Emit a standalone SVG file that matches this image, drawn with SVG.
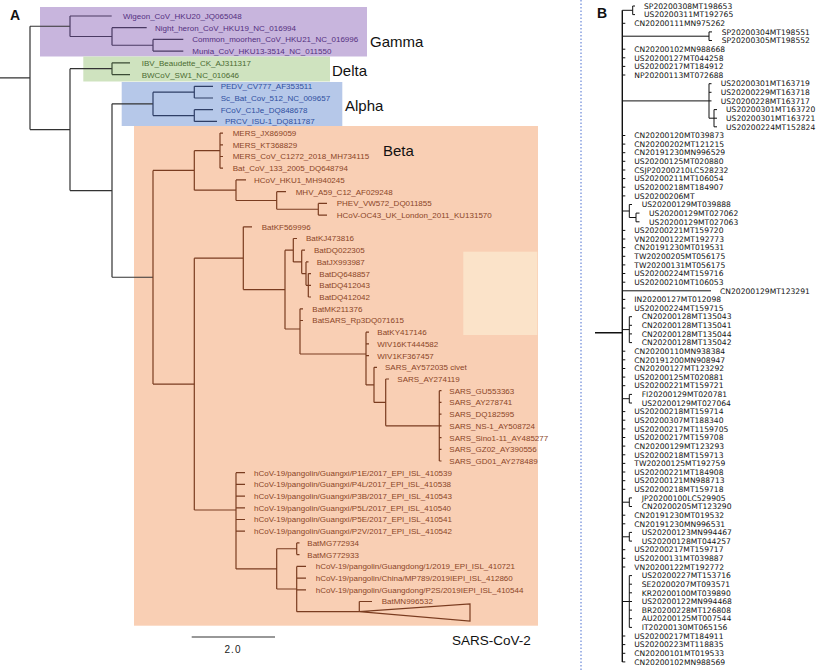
<svg xmlns="http://www.w3.org/2000/svg" width="825" height="670" viewBox="0 0 825 670">
<style>
.t{font-family:"Liberation Sans",Arial,sans-serif;font-size:8px}
.g{fill:#54307f}.d{fill:#4a6b30}.a{fill:#2f4fa0}.b{fill:#8b4527}
.bt{font-family:"DejaVu Sans",sans-serif;font-size:7.6px;fill:#111}
.lab{font-family:"Liberation Sans",Arial,sans-serif;font-size:15px;fill:#111}
.hd{font-family:"Liberation Sans",Arial,sans-serif;font-size:14px;font-weight:bold;fill:#111}
.e{fill:none;stroke-width:1.2}
.eo{stroke:#333}.eg{stroke:#4a3a63}.ed{stroke:#3b4b35}.ea{stroke:#2e3e66}.eb{stroke:#7a3c20}
.eB{fill:none;stroke:#111;stroke-width:1}
</style>
<rect width="825" height="670" fill="#fff"/>
<g id="clade-boxes">
<rect id="box-gamma" x="40" y="7" width="327" height="49.5" fill="#c8b5dd"/>
<rect id="box-delta" x="83.3" y="56.5" width="246.7" height="25" fill="#cfe3bf"/>
<rect id="box-alpha" x="121.7" y="82" width="220.6" height="44" fill="#b6c8e9"/>
<rect id="box-beta" x="134" y="126" width="404" height="499.7" fill="#f9cfb4"/>
<rect id="box-light" x="463.3" y="251.7" width="74" height="83.3" fill="#fbe3c9"/>
</g>
<text class="hd" x="10" y="20">A</text>
<text class="hd" x="597" y="18">B</text>
<g id="clade-labels">
<text class="lab" x="370" y="47">Gamma</text>
<text class="lab" x="332" y="75.5">Delta</text>
<text class="lab" x="345" y="111">Alpha</text>
<text class="lab" x="383" y="156">Beta</text>
<text class="lab" x="452" y="645" style="font-size:13.5px">SARS-CoV-2</text>
</g>
<g id="edges-A">
<path class="e eo" d="M0,77.9H30M30,26.25V129.6M30,26.25H70M30,129.6H70M70,68.7V190.55M70,68.7H112M70,190.55H112M112,103.85V277.25M112,103.85H153M112,277.25H153"/>
<path class="e eg" d="M70,16V36.5M70,16H111.7M70,36.5H112M112,27.7V45.25M112,27.7H146.7M112,45.25H153M153,39.4V51.1M153,39.4H183.3M153,51.1H183.3"/>
<path class="e ed" d="M112,62.8V74.6M112,62.8H130M112,74.6H130"/>
<path class="e ea" d="M153,92.15V115.55M153,92.15H194.3M153,115.55H194.3M194.3,86.3V98M194.3,86.3H213M194.3,98H213M194.3,109.7V121.4M194.3,109.7H213M194.3,121.4H217"/>
<path class="e eb" d="M153,170.4V384.1M153,170.4H194.3M153,384.1H194.3M194.3,150.65V190.2M194.3,150.65H220M194.3,190.2H236M220,133.1V168.2M220,133.1H223M220,144.8H223M220,156.5H223M220,168.2H223M236,179.9V200.5M236,179.9H246M236,200.5H276.7M276.7,191.7V209.25M276.7,191.7H286M276.7,209.25H318.3M318.3,203.4V215.1M318.3,203.4H327M318.3,215.1H327"/>
<path class="e eb" d="M194.3,258.2V510M194.3,258.2H243.3M194.3,510H236M243.3,226.8V289.6M243.3,226.8H252M243.3,289.6H285M285,250.2V329M285,250.2H293.3M285,329H300M293.3,238.5V261.9M293.3,238.5H297M293.3,261.9H301.7M301.7,250.2V273.6M301.7,250.2H305M301.7,273.6H306M306,261.9V285.3M306,261.9H308.5M306,285.3H308.3M308.3,273.6V297M308.3,273.6H311M308.3,285.3H311M308.3,297H311M300,308.8V354M300,308.8H303M300,320.5H303M300,354H366M366,332.2V384.9M366,332.2H369M366,343.9H369M366,355.6H369M366,384.9H374M374,367.3V402.4M374,367.3H377M374,402.4H385.7M385.7,379V425.85M385.7,379H389M385.7,425.85H439.3M439.3,390.7V461M439.3,390.7H441.5M439.3,402.4H441.5M439.3,414.1H441.5M439.3,425.8H441.5M439.3,437.6H441.5M439.3,449.3H441.5M439.3,461H441.5"/>
<path class="e eb" d="M236,472.7V568.9M236,472.7H245M236,484.4H245M236,496.1H245M236,507.8H245M236,519.5H245M236,531.2H245M236,568.9H276.7M276.7,548.75V589M276.7,548.75H296.7M276.7,589H296.7M296.7,542.9V554.6M296.7,542.9H299.5M296.7,554.6H299.5M296.7,566.4V611.7M296.7,566.4H306M296.7,578.1H306M296.7,589.8H306M296.7,611.7H359.3M359.3,601.5V611.7M359.3,601.5H372M359.3,611.7L470,604V621Z"/>
<path id="scale-bar" class="e eo" d="M191.7,637H275"/>
</g>
<text class="t" x="233" y="653" text-anchor="middle" style="font-size:10px;letter-spacing:1px;fill:#222">2.0</text>
<g id="gamma">
<text id="n-wigeon" class="t g" x="123" y="18.9">Wigeon_CoV_HKU20_JQ065048</text>
<text id="n-heron" class="t g" x="155" y="30.6">Night_heron_CoV_HKU19_NC_016994</text>
<text id="n-moorhen" class="t g" x="192.3" y="42.3">Common_moorhen_CoV_HKU21_NC_016996</text>
<text id="n-munia" class="t g" x="192.3" y="54">Munia_CoV_HKU13-3514_NC_011550</text>
</g>
<g id="delta">
<text id="n-ibv" class="t d" x="141.7" y="65.7">IBV_Beaudette_CK_AJ311317</text>
<text id="n-bwcov" class="t d" x="141.7" y="77.5">BWCoV_SW1_NC_010646</text>
</g>
<g id="alpha">
<text id="n-pedv" class="t a" x="220.7" y="89.2">PEDV_CV777_AF353511</text>
<text id="n-scbat" class="t a" x="220.7" y="100.9">Sc_Bat_Cov_512_NC_009657</text>
<text id="n-fcov" class="t a" x="220.7" y="112.6">FCoV_C1Je_DQ848678</text>
<text id="n-prcv" class="t a" x="225" y="124.3">PRCV_ISU-1_DQ811787</text>
</g>
<g id="beta">
<text class="t b" x="232.7" y="136">MERS_JX869059</text>
<text class="t b" x="232.7" y="147.7">MERS_KT368829</text>
<text class="t b" x="232.7" y="159.4">MERS_CoV_C1272_2018_MH734115</text>
<text class="t b" x="232.7" y="171.1">Bat_CoV_133_2005_DQ648794</text>
<text class="t b" x="254" y="182.8">HCoV_HKU1_MH940245</text>
<text class="t b" x="295.7" y="194.6">MHV_A59_C12_AF029248</text>
<text class="t b" x="336.7" y="206.3">PHEV_VW572_DQ011855</text>
<text class="t b" x="336.7" y="218">HCoV-OC43_UK_London_2011_KU131570</text>
<text class="t b" x="261.7" y="229.7">BatKF569996</text>
<text class="t b" x="306" y="241.4">BatKJ473816</text>
<text class="t b" x="314" y="253.1">BatDQ022305</text>
<text class="t b" x="316.7" y="264.8">BatJX993987</text>
<text class="t b" x="319.3" y="276.5">BatDQ648857</text>
<text class="t b" x="319.3" y="288.2">BatDQ412043</text>
<text class="t b" x="319.3" y="299.9">BatDQ412042</text>
<text class="t b" x="312.3" y="311.7">BatMK211376</text>
<text class="t b" x="312.3" y="323.4">BatSARS_Rp3DQ071615</text>
<text class="t b" x="377.3" y="335.1">BatKY417146</text>
<text class="t b" x="377.3" y="346.8">WIV16KT444582</text>
<text class="t b" x="377.3" y="358.5">WIV1KF367457</text>
<text class="t b" x="385" y="370.2">SARS_AY572035 civet</text>
<text class="t b" x="397.3" y="381.9">SARS_AY274119</text>
<text class="t b" x="449.3" y="393.6">SARS_GU553363</text>
<text class="t b" x="449.3" y="405.3">SARS_AY278741</text>
<text class="t b" x="449.3" y="417">SARS_DQ182595</text>
<text class="t b" x="449.3" y="428.7">SARS_NS-1_AY508724</text>
<text class="t b" x="449.3" y="440.5">SARS_Sino1-11_AY485277</text>
<text class="t b" x="449.3" y="452.2">SARS_GZ02_AY390556</text>
<text class="t b" x="449.3" y="463.9">SARS_GD01_AY278489</text>
<text class="t b" x="254" y="475.6">hCoV-19/pangolin/Guangxi/P1E/2017_EPI_ISL_410539</text>
<text class="t b" x="254" y="487.3">hCoV-19/pangolin/Guangxi/P4L/2017_EPI_ISL_410538</text>
<text class="t b" x="254" y="499">hCoV-19/pangolin/Guangxi/P3B/2017_EPI_ISL_410543</text>
<text class="t b" x="254" y="510.7">hCoV-19/pangolin/Guangxi/P5L/2017_EPI_ISL_410540</text>
<text class="t b" x="254" y="522.4">hCoV-19/pangolin/Guangxi/P5E/2017_EPI_ISL_410541</text>
<text class="t b" x="254" y="534.1">hCoV-19/pangolin/Guangxi/P2V/2017_EPI_ISL_410542</text>
<text class="t b" x="307.3" y="545.8">BatMG772934</text>
<text class="t b" x="307.3" y="557.5">BatMG772933</text>
<text class="t b" x="315.7" y="569.3">hCoV-19/pangolin/Guangdong/1/2019_EPI_ISL_410721</text>
<text class="t b" x="315.7" y="581">hCoV-19/pangolin/China/MP789/2019IEPI_ISL_412860</text>
<text class="t b" x="315.7" y="592.7">hCoV-19/pangolin/Guangdong/P2S/2019IEPI_ISL_410544</text>
<text class="t b" x="381.7" y="604.4">BatMN996532</text>
</g>
<line id="separator" x1="581" y1="0" x2="581" y2="670" stroke="#4a6fd0" stroke-width="1" stroke-dasharray="1.5 2"/>
<g id="edges-B">
<path class="eB" style="stroke-width:1.4" d="M595,332.7H622.3M622.3,10.3V661.9"/>
<path class="eB" d="M622.3,10.3H632.7M632.7,6V14.6M632.7,6H635M632.7,14.6H635M622.3,36.2H709M709,31.9V40.5M709,31.9H712M709,40.5H712M622.3,100.9H709M709,83.7V118.2M709,83.7H711.5M709,92.3H711.5M709,100.9H711.5M709,118.2H714M714,109.6V126.8M714,109.6H717M714,118.2H717M714,126.8H717M622.3,211H629.3M629.3,204.5V217.5M629.3,204.5H632M629.3,217.5H636M636,213.1V221.8M636,213.1H639.5M636,221.8H639.5M622.3,290.8H711M622.3,329.6H629.3M629.3,316.7V342.6M629.3,316.7H632M629.3,325.3H632M629.3,333.9H632M629.3,342.6H632M622.3,398.7H629.3M629.3,394.4V403M629.3,394.4H632M629.3,403H632M622.3,502.2H629.3M629.3,497.9V506.5M629.3,497.9H632M629.3,506.5H632M622.3,536.8H629.3M629.3,532.4V541.1M629.3,532.4H632M629.3,541.1H632M622.3,601.5H629.3M629.3,575.6V627.4M629.3,575.6H632M629.3,584.2H632M629.3,592.8H632M629.3,601.5H632M629.3,610.1H632M629.3,618.7H632M629.3,627.4H632"/>
<path class="eB" d="M622.3,23.3h3M622.3,49.2h3M622.3,57.8h3M622.3,66.4h3M622.3,75h3M622.3,135.5h3M622.3,144.1h3M622.3,152.7h3M622.3,161.3h3M622.3,170h3M622.3,178.6h3M622.3,187.2h3M622.3,195.9h3M622.3,230.4h3M622.3,239h3M622.3,247.6h3M622.3,256.3h3M622.3,264.9h3M622.3,273.5h3M622.3,282.2h3M622.3,299.4h3M622.3,308.1h3M622.3,351.2h3M622.3,359.8h3M622.3,368.5h3M622.3,377.1h3M622.3,385.7h3M622.3,411.6h3M622.3,420.2h3M622.3,428.9h3M622.3,437.5h3M622.3,446.1h3M622.3,454.8h3M622.3,463.4h3M622.3,472h3M622.3,480.7h3M622.3,489.3h3M622.3,515.2h3M622.3,523.8h3M622.3,549.7h3M622.3,558.3h3M622.3,567h3M622.3,636h3M622.3,644.6h3M622.3,653.3h3M622.3,661.9h3"/>
</g>
<g id="panel-B-leaves">
<text class="bt" x="644" y="8.7">SP20200308MT198653</text>
<text class="bt" x="644" y="17.3">US20200311MT192765</text>
<text class="bt" x="634.3" y="26">CN20200111MN975262</text>
<text class="bt" x="721.7" y="34.6">SP20200304MT198551</text>
<text class="bt" x="721.7" y="43.2">SP20200305MT198552</text>
<text class="bt" x="634.3" y="51.9">CN20200102MN988668</text>
<text class="bt" x="634.3" y="60.5">US20200127MT044258</text>
<text class="bt" x="634.3" y="69.1">US20200217MT184912</text>
<text class="bt" x="634.3" y="77.7">NP20200113MT072688</text>
<text class="bt" x="720.7" y="86.4">US20200301MT163719</text>
<text class="bt" x="720.7" y="95">US20200229MT163718</text>
<text class="bt" x="720.7" y="103.6">US20200228MT163717</text>
<text class="bt" x="726" y="112.3">US20200301MT163720</text>
<text class="bt" x="726" y="120.9">US20200301MT163721</text>
<text class="bt" x="726" y="129.5">US20200224MT152824</text>
<text class="bt" x="634.3" y="138.2">CN20200120MT039873</text>
<text class="bt" x="634.3" y="146.8">CN20200202MT121215</text>
<text class="bt" x="634.3" y="155.4">CN20191230MN996529</text>
<text class="bt" x="634.3" y="164">US20200125MT020880</text>
<text class="bt" x="634.3" y="172.7">CSJP20200210LC528232</text>
<text class="bt" x="634.3" y="181.3">US20200211MT106054</text>
<text class="bt" x="634.3" y="189.9">US20200218MT184907</text>
<text class="bt" x="634.3" y="198.6">US20200206MT</text>
<text class="bt" x="641.7" y="207.2">US20200129MT039888</text>
<text class="bt" x="649" y="215.8">US20200129MT027062</text>
<text class="bt" x="649" y="224.5">US20200129MT027063</text>
<text class="bt" x="634.3" y="233.1">US20200221MT159720</text>
<text class="bt" x="634.3" y="241.7">VN20200122MT192773</text>
<text class="bt" x="634.3" y="250.3">CN20191230MT019531</text>
<text class="bt" x="634.3" y="259">TW20200205MT056175</text>
<text class="bt" x="634.3" y="267.6">TW20200131MT056175</text>
<text class="bt" x="634.3" y="276.2">US20200224MT159716</text>
<text class="bt" x="634.3" y="284.9">US20200210MT106053</text>
<text class="bt" x="720" y="293.5">CN20200129MT123291</text>
<text class="bt" x="634.3" y="302.1">IN20200127MT012098</text>
<text class="bt" x="634.3" y="310.8">US20200224MT159715</text>
<text class="bt" x="641.7" y="319.4">CN20200128MT135043</text>
<text class="bt" x="641.7" y="328">CN20200128MT135041</text>
<text class="bt" x="641.7" y="336.6">CN20200128MT135044</text>
<text class="bt" x="641.7" y="345.3">CN20200128MT135042</text>
<text class="bt" x="634.3" y="353.9">CN20200110MN938384</text>
<text class="bt" x="634.3" y="362.5">CN20191200MN908947</text>
<text class="bt" x="634.3" y="371.2">CN20200127MT123292</text>
<text class="bt" x="634.3" y="379.8">US20200125MT020881</text>
<text class="bt" x="634.3" y="388.4">US20200221MT159721</text>
<text class="bt" x="641.7" y="397.1">FI20200129MT020781</text>
<text class="bt" x="641.7" y="405.7">US20200129MT027064</text>
<text class="bt" x="634.3" y="414.3">US20200218MT159714</text>
<text class="bt" x="634.3" y="422.9">US20200307MT188340</text>
<text class="bt" x="634.3" y="431.6">US20200217MT1159705</text>
<text class="bt" x="634.3" y="440.2">US20200217MT159708</text>
<text class="bt" x="634.3" y="448.8">CN20200129MT123293</text>
<text class="bt" x="634.3" y="457.5">US20200218MT159713</text>
<text class="bt" x="634.3" y="466.1">TW20200125MT192759</text>
<text class="bt" x="634.3" y="474.7">US20200221MT184908</text>
<text class="bt" x="634.3" y="483.4">US20200121MN988713</text>
<text class="bt" x="634.3" y="492">US20200218MT159718</text>
<text class="bt" x="641.7" y="500.6">JP20200100LC529905</text>
<text class="bt" x="641.7" y="509.2">CN20200205MT123290</text>
<text class="bt" x="634.3" y="517.9">CN20191230MT019532</text>
<text class="bt" x="634.3" y="526.5">CN20191230MN996531</text>
<text class="bt" x="641.7" y="535.1">US20200123MN994467</text>
<text class="bt" x="641.7" y="543.8">US20200128MT044257</text>
<text class="bt" x="634.3" y="552.4">US20200217MT159717</text>
<text class="bt" x="634.3" y="561">US20200131MT039887</text>
<text class="bt" x="634.3" y="569.7">VN20200122MT192772</text>
<text class="bt" x="641.7" y="578.3">US20200227MT153716</text>
<text class="bt" x="641.7" y="586.9">SE20200207MT093571</text>
<text class="bt" x="641.7" y="595.5">KR20200100MT039890</text>
<text class="bt" x="641.7" y="604.2">US20200122MN994468</text>
<text class="bt" x="641.7" y="612.8">BR20200228MT126808</text>
<text class="bt" x="641.7" y="621.4">AU20200125MT007544</text>
<text class="bt" x="641.7" y="630.1">IT20200130MT065156</text>
<text class="bt" x="634.3" y="638.7">US20200217MT184911</text>
<text class="bt" x="634.3" y="647.3">US20200223MT118835</text>
<text class="bt" x="634.3" y="656">CN20200101MT019533</text>
<text class="bt" x="634.3" y="664.6">CN20200102MN988569</text>
</g>
</svg>
